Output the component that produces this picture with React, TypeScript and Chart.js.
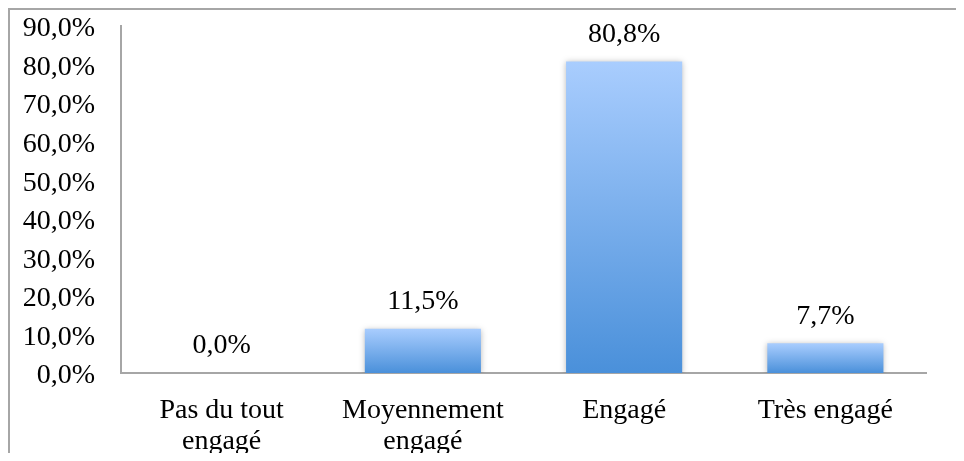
import React, { useEffect, useRef } from "react";
import { Chart, registerables } from "chart.js";

Chart.register(...registerables);

const categories: (string | string[])[] = [
  ["Pas du tout", "engagé"],
  ["Moyennement", "engagé"],
  "Engagé",
  "Très engagé",
];
const values: number[] = [0.0, 11.5, 80.8, 7.7];
const yMin = 0;
const yMax = 90;
const yStep = 10;

const FONT = "'Liberation Serif', 'Times New Roman', serif";

const fmt = (v: number) => v.toFixed(1).replace(".", ",") + "%";

const barValueLabels = {
  id: "barValueLabels",
  afterDatasetsDraw(chart: any) {
    const ctx = chart.ctx;
    const meta = chart.getDatasetMeta(0);
    ctx.save();
    ctx.font = `28px ${FONT}`;
    ctx.fillStyle = "#000";
    ctx.textAlign = "center";
    ctx.textBaseline = "middle";
    meta.data.forEach((el: any, i: number) => {
      ctx.fillText(fmt(values[i]), el.x, el.y - 27);
    });
    ctx.restore();
  },
};

const barShadow = {
  id: "barShadow",
  beforeDatasetsDraw(chart: any) {
    const ctx = chart.ctx;
    ctx.save();
    ctx.shadowColor = "rgba(0,0,0,0.28)";
    ctx.shadowBlur = 6;
    ctx.shadowOffsetX = 0;
    ctx.shadowOffsetY = 1;
  },
  afterDatasetsDraw(chart: any) {
    chart.ctx.restore();
  },
};

export default function App() {
  const ref = useRef<HTMLCanvasElement | null>(null);

  useEffect(() => {
    if (!ref.current) return;
    const chart = new Chart(ref.current, {
      type: "bar",
      data: {
        labels: categories,
        datasets: [
          {
            data: values,
            backgroundColor: (c: any) => {
              const ch = c.chart;
              if (!ch.chartArea || !ch.scales.y) return "#78aeea";
              const y = ch.scales.y;
              const v = c.raw as number;
              const top = y.getPixelForValue(v);
              const bot = y.getPixelForValue(0);
              if (!isFinite(top) || bot - top < 1) return "#78aeea";
              const g = ch.ctx.createLinearGradient(0, top, 0, bot);
              g.addColorStop(0, "#a9cdfe");
              g.addColorStop(1, "#4a90da");
              return g;
            },
            borderWidth: 0,
            barPercentage: 0.577,
            categoryPercentage: 1,
          },
        ],
      },
      options: {
        animation: false,
        responsive: false,
        maintainAspectRatio: false,
        layout: { padding: { top: 16, right: 38, left: 0, bottom: 0 } },
        plugins: {
          legend: { display: false },
          tooltip: { enabled: false },
        },
        scales: {
          x: {
            grid: { display: false, drawTicks: false },
            border: { display: true, color: "#a6a6a6", width: 2 },
            ticks: {
              color: "#000",
              font: { family: FONT, size: 28, lineHeight: 1.12 },
              padding: 22,
              maxRotation: 0,
              autoSkip: false,
            },
            afterFit: (s: any) => {
              s.height = 80;
              s.paddingTop = 0;
              s.paddingBottom = 0;
            },
          },
          y: {
            min: yMin,
            max: yMax,
            grid: { display: false, drawTicks: false },
            border: { display: true, color: "#a6a6a6", width: 2 },
            ticks: {
              stepSize: yStep,
              autoSkip: false,
              color: "#000",
              font: { family: FONT, size: 28, lineHeight: 1.0 },
              padding: 26,
              labelOffset: 3,
              callback: (v: any) => fmt(Number(v)),
            },
            afterFit: (s: any) => {
              s.width = 111;
              s.paddingTop = 0;
              s.paddingBottom = 0;
            },
          },
        },
      },
      plugins: [barShadow, barValueLabels],
    });
    return () => chart.destroy();
  }, []);

  return (
    <div
      style={{
        position: "relative",
        width: 954,
        height: 443,
        borderTop: "2px solid #a6a6a6",
        borderLeft: "2px solid #a6a6a6",
        background: "#fff",
      }}
    >
      <canvas ref={ref} width={954} height={443} style={{ display: "block" }} />
    </div>
  );
}
